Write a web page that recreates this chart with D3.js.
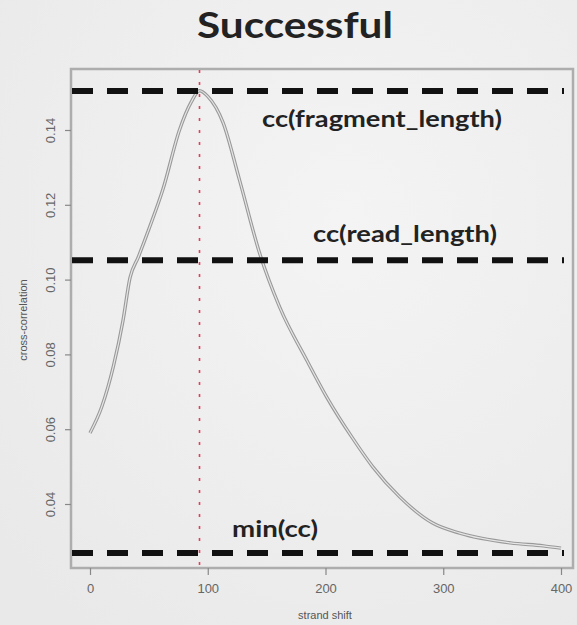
<!DOCTYPE html>
<html lang="en">
<head>
    <meta charset="UTF-8">
    <title>Successful</title>
    <script src="https://cdn.jsdelivr.net/npm/d3@7"></script>
    <style>
        body { margin: 0; background: #eee; }
        .tick text { font: 13px "Liberation Sans", Arial, sans-serif; fill: #666; }
        .lbl { font-family: Lato, "Open Sans", sans-serif; font-weight: bold; fill: #222; }
    </style>
</head>
<body>
    <svg id="chart" width="577" height="625"></svg>
    <script>
        // strand shift vs cross-correlation
        const shifts = [0, 10, 20, 28, 34, 41, 50, 62, 76, 86, 93, 100, 113, 127, 144, 161, 184, 201, 223, 240, 263, 291, 314, 357, 385, 400]
        const ccValues = [0.059, 0.066, 0.077, 0.089, 0.1005, 0.106, 0.1135, 0.1242, 0.140, 0.1475, 0.1505, 0.149, 0.142, 0.1266, 0.1071, 0.0927, 0.0785, 0.0686, 0.0576, 0.0500, 0.0419, 0.0349, 0.0322, 0.0296, 0.0288, 0.0282]
        const xTicks = [0, 100, 200, 300, 400]
        const yTicks = [0.04, 0.06, 0.08, 0.10, 0.12, 0.14]
        const refNames = ["cc(fragment_length)", "cc(read_length)", "min(cc)"]
        const refValues = [0.1504, 0.1052, 0.0269]
        const peakShift = 93

        const svg = d3.select("#chart")
        const width = +svg.attr("width")
        const height = +svg.attr("height")

        // soft slide-like background
        const defs = svg.append("defs")
        const grad = defs.append("radialGradient").attr("id", "bg").attr("cx", "60%").attr("cy", "35%").attr("r", "80%")
        grad.append("stop").attr("offset", "0%").attr("stop-color", "#f4f4f4")
        grad.append("stop").attr("offset", "100%").attr("stop-color", "#e9e9e9")
        svg.append("rect").attr("width", width).attr("height", height).attr("fill", "url(#bg)")

        const x = d3.scaleLinear().domain([0, 400]).range([90, 561])
        const y = d3.scaleLinear().domain([0.04, 0.14]).range([504, 130])

        // plot box
        svg.append("rect").attr("x", 71).attr("y", 69).attr("width", 502).attr("height", 499)
            .attr("fill", "none").attr("stroke", "#adadad").attr("stroke-width", 2.5)

        const xAxis = svg.append("g").attr("transform", "translate(0,568)")
            .call(d3.axisBottom(x).tickValues(xTicks).tickFormat(d3.format("d")).tickSize(7).tickPadding(9))
        const yAxis = svg.append("g").attr("transform", "translate(71,0)")
            .call(d3.axisLeft(y).tickValues(yTicks).tickFormat(d3.format(".2f")).tickSize(6))
        svg.selectAll(".domain").remove()
        svg.selectAll(".tick line").attr("stroke", "#888").attr("stroke-width", 1.2)
        yAxis.selectAll(".tick text")
            .attr("x", 0).attr("dy", 0)
            .attr("transform", "translate(-19,0) rotate(-90)")
            .attr("text-anchor", "middle")
            .attr("dominant-baseline", "middle")

        // axis titles
        svg.append("text").attr("transform", "translate(27,320) rotate(-90)")
            .attr("text-anchor", "middle").attr("fill", "#555")
            .style("font", "11px 'Liberation Sans', Arial, sans-serif").text("cross-correlation")
        svg.append("text").attr("x", 325).attr("y", 619)
            .attr("text-anchor", "middle").attr("fill", "#555")
            .style("font", "11px 'Liberation Sans', Arial, sans-serif").text("strand shift")

        // red dotted line at the peak shift
        svg.append("line").attr("x1", x(peakShift)).attr("x2", x(peakShift)).attr("y1", 70).attr("y2", 572)
            .attr("stroke", "#e0405a").attr("stroke-width", 1.6).attr("stroke-dasharray", "3,9")

        // the cross-correlation curve (drawn twice for the doubled grey look)
        const pts = shifts.map((s, i) => [s, ccValues[i]])
        const line = d3.line().x(d => x(d[0])).y(d => y(d[1])).curve(d3.curveMonotoneX)
        svg.append("path").datum(pts).attr("d", line).attr("fill", "none").attr("stroke", "#999").attr("stroke-width", 3.4)
        svg.append("path").datum(pts).attr("d", line).attr("fill", "none").attr("stroke", "#e6e6e6").attr("stroke-width", 1.2)

        // dashed reference lines
        svg.selectAll(".ref").data(refValues).enter().append("line").attr("class", "ref")
            .attr("x1", 72).attr("x2", 564)
            .attr("y1", d => y(d)).attr("y2", d => y(d))
            .attr("stroke", "#111").attr("stroke-width", 6).attr("stroke-dasharray", "21,14")

        // labels
        const labelPos = [[382, 127, 240], [405, 242, 184], [275, 537, 86]]
        svg.selectAll(".reflbl").data(refNames).enter().append("text").attr("class", "lbl reflbl")
            .attr("x", (d, i) => labelPos[i][0]).attr("y", (d, i) => labelPos[i][1])
            .attr("text-anchor", "middle").style("font-size", "22px")
            .attr("textLength", (d, i) => labelPos[i][2]).attr("lengthAdjust", "spacingAndGlyphs")
            .text(d => d)

        svg.append("text").attr("class", "lbl").attr("x", 295).attr("y", 38)
            .attr("text-anchor", "middle").style("font-size", "37px")
            .attr("textLength", 196).attr("lengthAdjust", "spacingAndGlyphs")
            .text("Successful")
    </script>
</body>
</html>
